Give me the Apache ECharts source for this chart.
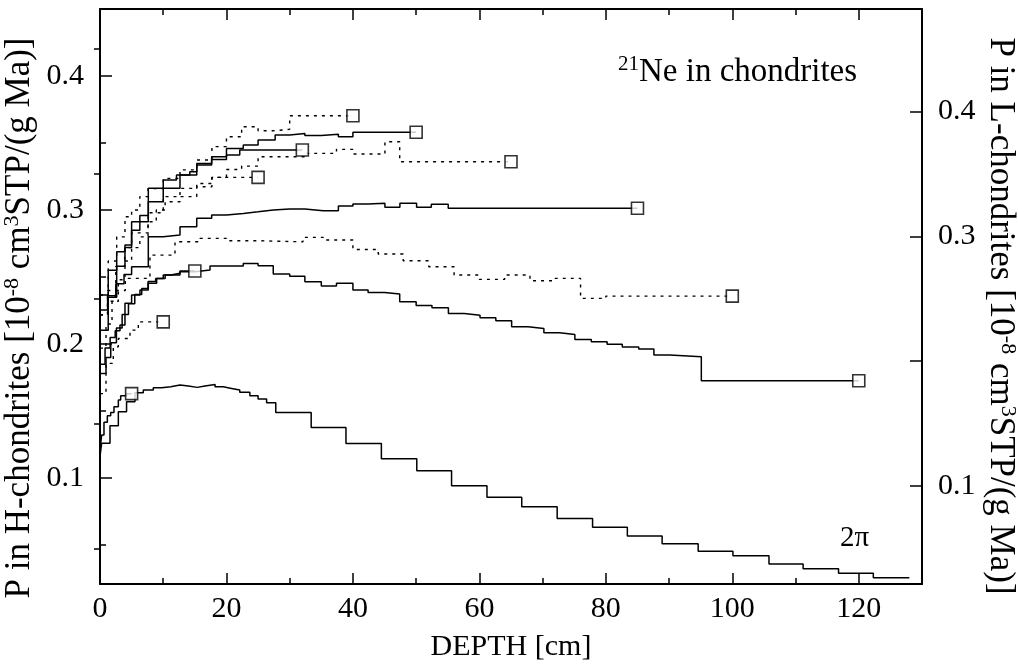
<!DOCTYPE html>
<html><head><meta charset="utf-8">
<script src="https://cdn.jsdelivr.net/npm/echarts@6/dist/echarts.min.js"></script>
<style>html,body{margin:0;padding:0;background:#fff}#c{width:1018px;height:666px}</style>
</head><body><div id="c"></div>
<script>
// Depth ticks and tick labels
const xMajor = [0, 20, 40, 60, 80, 100, 120];
const xMinor = [10, 30, 50, 70, 90, 110];
const yMajor = [0.1, 0.2, 0.3, 0.4];
const yMinor = [0.05, 0.15, 0.25, 0.35, 0.45];
const rightLabels = [0.1, 0.3, 0.4];

// Step curves: [depth cm, P in H-chondrites]; each value holds until the next depth
const curve2pi = [[0,0.116],[0.26,0.126],[1.58,0.139],[2.9,0.1495],[4.2,0.157],[5.53,0.1637],[6.85,0.1657],[8.43,0.1674],[9.75,0.1681],[11.2,0.1694],[12.65,0.1687],[13.97,0.1677],[15.4,0.1687],[16.6,0.1699],[18.2,0.1681],[19.5,0.1669],[20.8,0.1657],[22.1,0.164],[23.7,0.1614],[25.0,0.159],[26.35,0.1562],[27.8,0.149],[33.4,0.1378],[38.9,0.1259],[44.5,0.1144],[50.1,0.1055],[55.6,0.0943],[61.2,0.0858],[66.7,0.0786],[72.3,0.0699],[77.9,0.0634],[83.4,0.0569],[88.9,0.051],[94.6,0.0455],[100.1,0.042],[105.8,0.036],[111.2,0.0323],[116.8,0.0291],[122.3,0.0256],[128.0,0.0256]];
const curveR5 = [[0,0.121],[0.26,0.1321],[0.63,0.1416],[1.16,0.1465],[1.69,0.149],[2.21,0.1532],[2.9,0.1582],[3.27,0.1614],[4.2,0.163],[5,0.163]];
const curveR10 = [[0,0.163],[0.95,0.1856],[2.1,0.198],[2.9,0.2042],[4.74,0.2104],[6.06,0.2166],[10,0.2166]];
const curveR15 = [[0,0.178],[0.95,0.19],[1.7,0.201],[2.6,0.212],[3.5,0.222],[4.5,0.23],[5.5,0.237],[6.6,0.2415],[7.6,0.2466],[8.8,0.249],[10,0.2515],[11.2,0.2528],[12.65,0.2545],[15,0.2545]];
const curveR25 = [[0,0.197],[0.95,0.215],[1.9,0.232],[2.9,0.248],[3.95,0.262],[5.0,0.272],[6.3,0.28],[7.6,0.2913],[8.9,0.3],[10.3,0.3062],[12.65,0.31],[15.3,0.3174],[17.7,0.3244],[25,0.3244]];
const curveR32 = [[0,0.2104],[1.3,0.235],[2.64,0.258],[3.95,0.272],[5,0.285],[6.3,0.296],[7.64,0.3162],[10,0.3224],[12.1,0.3261],[14.2,0.3286],[15.3,0.3336],[17.66,0.3378],[20,0.3411],[22.1,0.3448],[32,0.3448]];
const curveR40 = [[0,0.2366],[1.3,0.262],[2.64,0.28],[3.95,0.295],[5,0.3],[6.3,0.31],[7.6,0.316],[10,0.3236],[12.65,0.33],[15.3,0.3373],[17.7,0.3473],[20,0.3547],[22.4,0.3622],[25,0.3592],[27.4,0.3602],[30,0.3704],[40,0.3704]];
const curveR50 = [[0,0.2366],[1.3,0.255],[2.64,0.2689],[3.95,0.2739],[5.0,0.2913],[7.64,0.3062],[10,0.3162],[12.65,0.3261],[15.3,0.3348],[17.66,0.3398],[20,0.346],[22.66,0.3485],[25,0.3522],[27.7,0.356],[30,0.3572],[32.4,0.3557],[35,0.3565],[37.7,0.3547],[40,0.358],[50,0.358]];
const curveR65 = [[0,0.2216],[1.2,0.24],[2.5,0.258],[3.9,0.272],[5.0,0.283],[7.6,0.298],[10,0.31],[12.65,0.3162],[15.3,0.3198],[17.7,0.3244],[20,0.3303],[22.4,0.3328],[25,0.3398],[32.4,0.3423],[37.4,0.3453],[40,0.3418],[45.06,0.351],[47.4,0.336],[65,0.336]];
const curveR85 = [[0,0.2254],[1.2,0.236],[2.5,0.245],[3.8,0.252],[5.0,0.2577],[7.64,0.2801],[10,0.2813],[12.65,0.2876],[15.3,0.2938],[17.66,0.2963],[20,0.2975],[22.66,0.2987],[25,0.3],[27.4,0.3007],[30,0.3007],[32.4,0.2995],[35.3,0.2995],[37.7,0.303],[40,0.3045],[42.4,0.305],[45.06,0.302],[47.43,0.305],[50.07,0.302],[52.4,0.3043],[55.07,0.3013],[85,0.3013]];
const curveR100 = [[0,0.222],[1.2,0.232],[2.4,0.24],[4.0,0.249],[7.9,0.2664],[11.86,0.2763],[15.8,0.2789],[20,0.2771],[25,0.2763],[32.1,0.2796],[35.3,0.2776],[40,0.2706],[44,0.2672],[47.95,0.2622],[52,0.2577],[56,0.2515],[60,0.2483],[64,0.2515],[68,0.2473],[72,0.249],[76,0.2341],[80,0.2358],[100,0.2358]];
const curveR120 = [[0,0.185],[0.8,0.197],[1.6,0.205],[2.4,0.21],[3.16,0.2142],[3.95,0.2304],[5,0.2366],[6.32,0.2403],[7.64,0.2453],[8.96,0.249],[10.3,0.2515],[12.65,0.254],[15,0.2552],[17.4,0.2582],[22.66,0.2602],[25,0.2584],[27.4,0.2522],[30,0.2507],[32.4,0.2465],[35,0.2433],[37.4,0.2453],[40,0.2403],[42.4,0.2385],[45,0.2373],[47.4,0.2316],[50,0.2288],[52.5,0.2271],[55.1,0.2229],[57.6,0.2216],[60.1,0.2196],[62.6,0.2174],[65.1,0.2129],[67.7,0.2117],[70.2,0.2085],[72.7,0.2072],[75.1,0.2035],[77.7,0.2017],[80.2,0.1998],[82.6,0.1978],[85.2,0.1963],[87.6,0.1918],[90.1,0.1905],[95.1,0.1726],[120,0.1726]];

const solidCurves = [curve2pi, curveR5, curveR15, curveR32, curveR50, curveR85, curveR120];
const dottedCurves = [curveR10, curveR25, curveR40, curveR65, curveR100];
const endMarked = [curveR5, curveR10, curveR15, curveR25, curveR32, curveR40, curveR50, curveR65, curveR85, curveR100, curveR120];

const FONT = 'Liberation Serif';
const chart = echarts.init(document.getElementById('c'), null, {renderer: 'canvas'});

function stepSeries(data, dotted) {
  return {
    type: 'line', step: 'end', data: data, symbol: 'none', silent: true,
    xAxisIndex: 0, yAxisIndex: 0, z: 3,
    lineStyle: {color: '#000', width: dotted ? 1.4 : 1.5, type: dotted ? [3, 5] : 'solid'}
  };
}
const series = [];
solidCurves.forEach(c => series.push(stepSeries(c, false)));
dottedCurves.forEach(c => series.push(stepSeries(c, true)));
series.push({
  type: 'scatter', xAxisIndex: 0, yAxisIndex: 0, silent: true, z: 5,
  data: endMarked.map(c => c[c.length - 1]),
  symbol: 'rect', symbolSize: 12,
  itemStyle: {color: '#fff', borderColor: '#000', borderWidth: 1.6}
});

const lab = {fontFamily: FONT, fontSize: 30, color: '#000'};
const axLine = {show: true, onZero: false, lineStyle: {color: '#000', width: 2}};
const tickStyle = {color: '#000', width: 1.5};
const nameRich = {
  t: {fontFamily: FONT, fontSize: 35, color: '#000', lineHeight: 38},
  s: {fontFamily: FONT, fontSize: 22, color: '#000', lineHeight: 22, verticalAlign: 'top'}
};
function xAx(pos, major, withLabel) {
  const a = {
    type: 'value', position: pos, min: 0, max: 130,
    axisLine: major ? axLine : {show: false},
    axisTick: {show: true, inside: true, length: major ? 11 : 6, customValues: major ? xMajor : xMinor, lineStyle: tickStyle},
    axisLabel: withLabel ? Object.assign({customValues: xMajor, margin: 10}, lab) : {show: false},
    splitLine: {show: false}
  };
  if (withLabel) {
    a.name = 'DEPTH [cm]'; a.nameLocation = 'middle'; a.nameGap = 48;
    a.nameTextStyle = {fontFamily: FONT, fontSize: 30, color: '#000'};
  }
  return a;
}
function yAx(pos, min, max, major, labels) {
  return {
    type: 'value', position: pos, min: min, max: max,
    axisLine: major ? axLine : {show: false},
    axisTick: {show: true, inside: true, length: major ? 12 : 6, customValues: major ? yMajor : yMinor, lineStyle: tickStyle},
    axisLabel: labels ? Object.assign({customValues: labels, margin: 16, formatter: v => v.toFixed(1)}, lab) : {show: false},
    splitLine: {show: false}
  };
}

chart.setOption({
  animation: false,
  backgroundColor: '#fff',
  title: {
    text: '{s|21}{t|Ne in chondrites}', left: 613, top: 49,
    textStyle: {fontWeight: 'normal', rich: {
      t: {fontFamily: FONT, fontSize: 33, fontWeight: 'normal', color: '#000', lineHeight: 36},
      s: {fontFamily: FONT, fontSize: 21, fontWeight: 'normal', color: '#000', lineHeight: 21, verticalAlign: 'top'}
    }}
  },
  grid: {left: 100, right: 96, top: 9, bottom: 82, outerBoundsMode: 'none', containLabel: false},
  xAxis: [xAx('bottom', true, true), xAx('bottom', false, false), xAx('top', true, false), xAx('top', false, false)],
  yAxis: [
    yAx('left', 0.021, 0.45, true, yMajor),
    yAx('left', 0.021, 0.45, false, null),
    yAx('right', 0.0216, 0.482, true, rightLabels),
    yAx('right', 0.0216, 0.482, false, null)
  ],
  graphic: [
    {type: 'text', x: 840, y: 524, style: {text: '2π', font: '29px "Liberation Serif"', fill: '#000'}},
    {type: 'text', x: 20, y: 318, rotation: Math.PI / 2,
     style: {text: '{t|P in H-chondrites [10}{s|-8}{t| cm}{s|3}{t|STP/(g Ma)]}', align: 'center', verticalAlign: 'middle', rich: nameRich}},
    {type: 'text', x: 1000, y: 316, rotation: -Math.PI / 2,
     style: {text: '{t|P in L-chondrites [10}{s|-8}{t| cm}{s|3}{t|STP/(g Ma)]}', align: 'center', verticalAlign: 'middle', rich: nameRich}}
  ],
  series: series
});
</script></body></html>
